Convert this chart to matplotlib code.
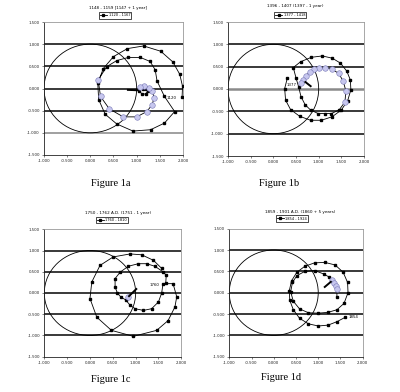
import matplotlib
matplotlib.use("Agg")
import matplotlib.pyplot as plt
from matplotlib.patches import Circle
from matplotlib.ticker import FormatStrFormatter, MultipleLocator
from matplotlib.lines import Line2D

# ---------------- data ----------------
# Figure 1a
a_x = [1.98, 1.99, 1.93, 1.78, 1.52, 1.15, 0.80, 0.50, 0.28, 0.16, 0.18, 0.32, 0.57, 0.92, 1.30, 1.60, 1.82,
       1.60, 1.44, 1.40, 1.29, 1.08, 0.82, 0.57, 0.35,
       0.17, 0.22, 0.41, 0.71, 1.00, 1.22, 1.33, 1.38, 1.33, 1.26, 1.16, 1.08,
       1.06, 1.12, 1.20, 1.24, 1.20, 1.14]
a_y = [-0.20, 0.05, 0.32, 0.60, 0.84, 0.96, 0.90, 0.72, 0.45, 0.12, -0.25, -0.58, -0.80, -0.96, -0.93, -0.78, -0.52,
       -0.18, 0.17, 0.42, 0.61, 0.70, 0.70, 0.63, 0.49,
       0.19, -0.18, -0.46, -0.64, -0.64, -0.52, -0.37, -0.21, -0.05, 0.02, 0.06, 0.03,
       -0.06, -0.13, -0.12, -0.05, 0.00, -0.02]
a_hx = [0.17, 0.22, 0.41, 0.71, 1.00, 1.22, 1.33, 1.38, 1.33, 1.26, 1.16, 1.08]
a_hy = [0.19, -0.18, -0.46, -0.64, -0.64, -0.52, -0.37, -0.21, -0.05, 0.02, 0.06, 0.03]
a_arrow_x = [0.79, 1.03]
a_arrow_y = [-0.03, -0.04]

# Figure 1b
b_x = [0.31, 0.25, 0.27, 0.38, 0.58, 0.82, 1.06, 1.30, 1.50, 1.64, 1.71, 1.70, 1.62, 1.48, 1.30, 1.08, 0.84, 0.60, 0.44,
       0.50, 0.56, 0.61, 0.70, 0.82, 0.99, 1.13, 1.28, 1.45,
       1.58, 1.60, 1.54, 1.44, 1.30, 1.15, 1.00, 0.89, 0.80, 0.72, 0.66, 0.61]
b_y = [0.25, 0.01, -0.25, -0.46, -0.61, -0.70, -0.70, -0.62, -0.47, -0.26, -0.02, 0.20, 0.40, 0.58, 0.69, 0.74, 0.71, 0.61, 0.48,
       0.25, 0.04, -0.17, -0.35, -0.47, -0.55, -0.55, -0.55, -0.47,
       -0.29, -0.04, 0.18, 0.35, 0.44, 0.48, 0.46, 0.44, 0.39, 0.29, 0.20, 0.13]
b_hx = [1.58, 1.60, 1.54, 1.44, 1.30, 1.15, 1.00, 0.89, 0.80, 0.72, 0.66, 0.61]
b_hy = [-0.29, -0.04, 0.18, 0.35, 0.44, 0.48, 0.46, 0.44, 0.39, 0.29, 0.20, 0.13]
b_arrow_x = [0.69, 0.84]
b_arrow_y = [0.17, 0.05]

# Figure 1c
c_x = [1.66, 1.67, 1.60, 1.42, 1.24, 1.06, 0.84, 0.66, 0.55, 0.55, 0.60, 0.68, 0.78, 0.88, 0.99, 1.17, 1.35, 1.50, 1.57, 1.60,
       1.82, 1.90, 1.86, 1.71, 1.46, 0.95, 0.47, 0.15, 0.00, 0.04, 0.22, 0.51, 0.88, 1.13, 1.39, 1.57]
c_y = [0.24, 0.42, 0.50, 0.63, 0.69, 0.69, 0.63, 0.49, 0.34, 0.14, 0.00, -0.10, -0.16, -0.29, -0.37, -0.41, -0.37, -0.21, 0.00, 0.22,
       0.22, -0.09, -0.33, -0.65, -0.88, -1.02, -0.88, -0.57, -0.13, 0.26, 0.65, 0.85, 0.92, 0.90, 0.77, 0.58]
c_hx = [0.84]
c_hy = [-0.09]
c_arrow_x = [0.84, 1.03]
c_arrow_y = [-0.09, 0.11]

# Figure 1d
d_x = [1.60, 1.42, 1.22, 1.00, 0.78, 0.58, 0.44, 0.36, 0.35, 0.40, 0.52, 0.70, 0.92, 1.15, 1.38, 1.56, 1.66, 1.67, 1.58,
       1.42, 1.22, 1.00, 0.78, 0.58, 0.44, 0.38, 0.42, 0.52, 0.70, 0.92, 1.12, 1.24, 1.31, 1.35, 1.39, 1.42, 1.42]
d_y = [-0.58, -0.68, -0.76, -0.78, -0.73, -0.60, -0.40, -0.18, 0.05, 0.28, 0.48, 0.62, 0.70, 0.71, 0.65, 0.48, 0.24, 0.00, -0.25,
       -0.40, -0.46, -0.48, -0.47, -0.38, -0.20, 0.02, 0.24, 0.40, 0.50, 0.52, 0.44, 0.37, 0.30, 0.22, 0.15, 0.08, -0.10]
d_hx = [1.31, 1.35, 1.39, 1.42]
d_hy = [0.30, 0.22, 0.15, 0.08]
d_arrow_x = [1.13, 1.30]
d_arrow_y = [0.12, 0.27]

titles = ["1148 - 1159 [1147 + 1 year]", "1396 - 1407 (1397 - 1 year)",
          "1750 - 1762 A.D. (1751 - 1 year)", "1859 - 1901 A.D. (1860 + 5 years)"]
legend_labels = ["1120 - 1167", "1377 - 1418", "1760 - 1810", "1854 - 1924"]
point_labels = ["1120", "1377", "1760", "1854"]
captions = ["Figure 1a", "Figure 1b", "Figure 1c", "Figure 1d"]

# ---------------- layout ----------------
W, H = 400.0, 392.0
fig = plt.figure(figsize=(4.0, 3.92), dpi=100)

def fx(px):
    return px / W

def fy(py):
    return 1 - py / H

rects = [(44, 22, 183, 155), (228, 22, 364, 156), (44.3, 229.3, 181.3, 356.7), (229.3, 228.7, 362.7, 356.7)]
title_pos = [(118, 8.5), (295, 6), (118, 213), (300, 212)]
legend_pos = [(115, 15.5), (290, 15), (112, 220), (292, 218.5)]
caption_pos = [(111, 183), (279, 183), (111, 379), (281, 378)]
label_pos = [(1.76, -0.22), (0.41, 0.08), (1.42, 0.20), (1.80, -0.58)]

series = [(a_x, a_y, a_hx, a_hy, a_arrow_x, a_arrow_y),
          (b_x, b_y, b_hx, b_hy, b_arrow_x, b_arrow_y),
          (c_x, c_y, c_hx, c_hy, c_arrow_x, c_arrow_y),
          (d_x, d_y, d_hx, d_hy, d_arrow_x, d_arrow_y)]

for i, (x0, y0, x1, y1) in enumerate(rects):
    ax = fig.add_axes([fx(x0), fy(y1), fx(x1 - x0), (y1 - y0) / H])
    ax.set_xlim(-1, 2)
    ax.set_ylim(-1.5, 1.5)
    ax.xaxis.set_major_locator(MultipleLocator(0.5))
    ax.yaxis.set_major_locator(MultipleLocator(0.5))
    ax.xaxis.set_major_formatter(FormatStrFormatter('%.3f'))
    ax.yaxis.set_major_formatter(FormatStrFormatter('%.3f'))
    ax.tick_params(labelsize=2.8, length=1.5, width=0.4, pad=1.5, colors='#222222')
    for s in ['top', 'right']:
        ax.spines[s].set_color('#999999')
        ax.spines[s].set_linewidth(0.6)
    for s in ['left', 'bottom']:
        ax.spines[s].set_color('#222222')
        ax.spines[s].set_linewidth(0.6)
    for gy in [-1.0, -0.5, 0.0, 0.5, 1.0]:
        col, lw = '#2a2a2a', 1.3
        if i == 0 and gy == -1.0:
            col = '#999999'
        if i == 1 and gy == 0.0:
            col, lw = '#8a8a8a', 1.8
        ax.axhline(gy, color=col, lw=lw, zorder=1)

    ax.add_patch(Circle((0, 0), 1.0, fill=False, ec='black', lw=0.6, zorder=2))

    xs, ys, hx, hy, arx, ary = series[i]
    ax.plot(xs, ys, color='black', lw=0.6, marker='s', ms=1.9, mfc='black', mec='black', zorder=3)
    ax.plot(hx, hy, ls='none', marker='o', ms=4.0, mfc='#c6c6ee', mec='#7a7ab8', mew=0.4, zorder=4)
    ax.plot(arx, ary, color='black', lw=1.4, solid_capstyle='butt', zorder=5)
    lx, ly = label_pos[i]
    ax.text(lx, ly, point_labels[i], fontsize=2.8, ha='center', va='center', zorder=6)

    tx, ty = title_pos[i]
    fig.text(fx(tx), fy(ty), titles[i], fontsize=3.0, ha='center', va='center')
    lgx, lgy = legend_pos[i]
    handle = Line2D([], [], color='black', lw=0.6, marker='s', ms=1.4)
    ax.legend([handle], [legend_labels[i]], loc='center', bbox_to_anchor=(fx(lgx), fy(lgy)),
              bbox_transform=fig.transFigure, fontsize=2.6, frameon=True, fancybox=False,
              edgecolor='black', handlelength=2.0, handletextpad=0.4, borderpad=0.3,
              borderaxespad=0, framealpha=1).get_frame().set_linewidth(0.5)
    cx, cy = caption_pos[i]
    fig.text(fx(cx), fy(cy), captions[i], fontsize=7.5, family=['Liberation Serif', 'DejaVu Serif'],
             ha='center', va='center')

fig.savefig("out.png", dpi=100, facecolor='white')
